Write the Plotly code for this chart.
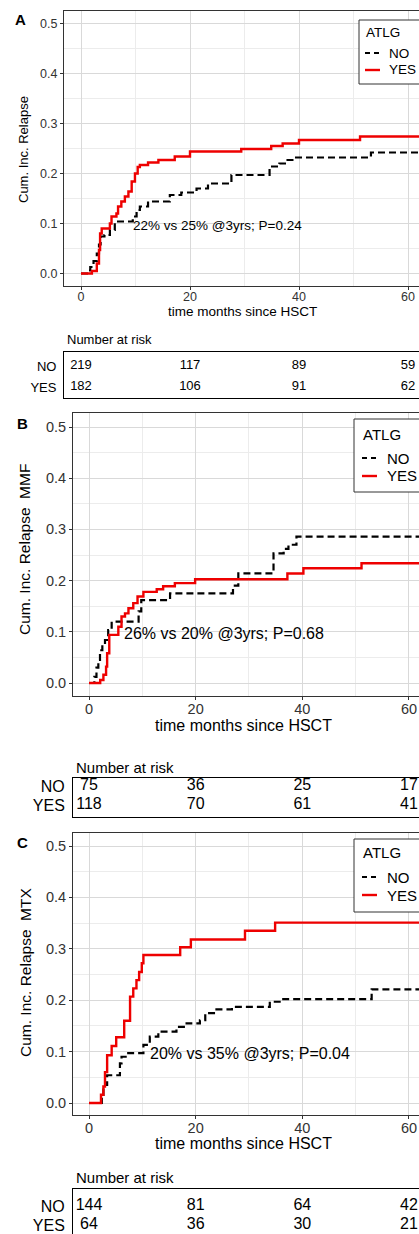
import plotly.graph_objects as go

# ---------------- data ----------------
time_ticks = [0, 20, 40, 60]
groups = ["NO", "YES"]
legend_title = "ATLG"

# Panel A: all patients
tA_no = [0, 1.3, 1.7, 2.3, 2.9, 3.3, 3.6, 4.3, 5.3, 6.2, 9.5, 10.2, 10.8, 12.3, 16.3, 18.4, 21.2, 23.3, 27.6, 34.6, 36.4, 37.9, 39.2, 53.2, 64]
cA_no = [0, .006, .013, .025, .04, .058, .074, .077, .087, .104, .114, .127, .134, .144, .157, .162, .170, .180, .197, .214, .220, .227, .232, .242, .242]
tA_yes = [0, 2.0, 2.9, 3.3, 3.5, 3.8, 5.3, 5.6, 6.5, 6.8, 7.4, 8.05, 8.7, 9.3, 9.9, 10.4, 10.8, 12.3, 14.2, 17.2, 20.0, 29.4, 34.9, 37.0, 40.0, 51.2, 64]
cA_yes = [0, .005, .02, .047, .08, .09, .1, .114, .12, .134, .144, .154, .164, .184, .2, .213, .217, .222, .227, .234, .244, .249, .255, .26, .267, .274, .274]
riskA_no = [219, 117, 89, 59]
riskA_yes = [182, 106, 91, 62]
noteA = "22% vs 25% @3yrs; P=0.24"

# Panel B: MMF
tB_no = [0, 1.0, 1.4, 1.75, 2.06, 2.5, 3.0, 3.6, 4.25, 9.3, 9.8, 15.2, 27.0, 28.0, 34.6, 36.5, 37.4, 38.9, 64]
cB_no = [0, .012, .03, .045, .064, .075, .084, .1035, .12, .14, .162, .175, .19, .214, .253, .262, .27, .286, .286]
tB_yes = [0, 2.1, 2.7, 3.2, 3.4, 3.8, 5.5, 6.1, 6.75, 7.4, 8.3, 9.1, 10.2, 12.7, 13.9, 16.1, 19.9, 37.2, 40.2, 51.1, 64]
cB_yes = [0, .006, .016, .032, .058, .094, .11, .13, .136, .146, .156, .169, .178, .183, .189, .195, .2025, .214, .224, .234, .234]
riskB_no = [75, 36, 25, 17]
riskB_yes = [118, 70, 61, 41]
noteB = "26% vs 20% @3yrs; P=0.68"

# Panel C: MTX
tC_no = [0, 2.4, 2.7, 3.4, 5.8, 6.1, 7.1, 10.2, 11.4, 13.0, 16.4, 18.3, 20.8, 21.8, 23.9, 26.8, 33.9, 36.1, 53.0, 64]
cC_no = [0, .016, .035, .054, .077, .09, .097, .113, .129, .139, .148, .155, .161, .175, .182, .187, .197, .202, .221, .221]
tC_yes = [0, 2.25, 2.7, 3.0, 3.4, 4.25, 5.1, 6.6, 7.7, 8.3, 8.9, 9.4, 9.9, 10.2, 17.1, 19.1, 29.25, 34.9, 64]
cC_yes = [0, .016, .032, .06, .093, .111, .128, .16, .207, .223, .239, .255, .272, .288, .303, .318, .335, .351, .351]
riskC_no = [144, 81, 64, 42]
riskC_yes = [64, 36, 30, 21]
noteC = "20% vs 35% @3yrs; P=0.04"

# ---------------- layout helpers ----------------
W, H = 419, 1234
FONT = "Liberation Sans, Arial, sans-serif"
GRID = "#d9d9d9"
MINOR = "#ececec"
LINE = "#333333"
RED = "#ee0000"
NO_DASH = "7px,4px"


def fx(p):
    return p / W


def fy(p):
    return 1 - p / H


panels = [
    dict(letter="A", ytitle="Cum. Inc. Relapse", L=64, T=11, B=286, x0=81, xs=5.45, y0=273.5, ys=500,
         t_no=tA_no, c_no=cA_no, t_yes=tA_yes, c_yes=cA_yes, r_no=riskA_no, r_yes=riskA_yes,
         note=noteA, note_x=9.15, fs=13.5, tfs=12.5, nfs=13, rfs=13, lfs=13.5, tso=-4,
         xt_y=312, xt_x=242, yt_x=23, yt_y=150, let_xy=(20, 20),
         nar_y=339, tbl_T=352, tbl_B=398, no_y=366, yes_y=387,
         leg=dict(L=359, T=20, B=84, title_x=364, title_y=33, sym_x=365, no_y=53, yes_y=70, txt_x=387)),
    dict(letter="B", ytitle="Cum. Inc. Relapse  MMF", L=73, T=413, B=696, x0=89, xs=5.333, y0=683, ys=512,
         t_no=tB_no, c_no=cB_no, t_yes=tB_yes, c_yes=cB_yes, r_no=riskB_no, r_yes=riskB_yes,
         note=noteB, note_x=6.2, fs=16, tfs=14.5, nfs=15, rfs=16, lfs=15, tso=-3,
         xt_y=725, xt_x=243, yt_x=25, yt_y=550, let_xy=(22, 423),
         nar_y=767, tbl_T=778, tbl_B=817, no_y=786, yes_y=805,
         leg=dict(L=354, T=419, B=492, title_x=361, title_y=434, sym_x=362, no_y=458, yes_y=476, txt_x=385)),
    dict(letter="C", ytitle="Cum. Inc. Relapse  MTX", L=73, T=833, B=1115, x0=89, xs=5.333, y0=1103, ys=514,
         t_no=tC_no, c_no=cC_no, t_yes=tC_yes, c_yes=cC_yes, r_no=riskC_no, r_yes=riskC_yes,
         note=noteC, note_x=11.1, fs=16, tfs=14.5, nfs=15, rfs=16, lfs=15, tso=-3,
         xt_y=1143, xt_x=243, yt_x=25, yt_y=973, let_xy=(22, 842),
         nar_y=1177, tbl_T=1189, tbl_B=1234, no_y=1206, yes_y=1225,
         leg=dict(L=354, T=839, B=912, title_x=361, title_y=853, sym_x=362, no_y=877, yes_y=895, txt_x=385)),
]

fig = go.Figure()
annotations = []
shapes = []
layout = dict(width=W, height=H, margin=dict(l=0, r=0, t=0, b=0, autoexpand=False),
              paper_bgcolor="white", plot_bgcolor="white", font=dict(family=FONT, color="black"),
              showlegend=False)

for i, p in enumerate(panels):
    ax_plot = 2 * i + 1
    ax_tab = 2 * i + 2
    xk = "xaxis" if ax_plot == 1 else f"xaxis{ax_plot}"
    yk = "yaxis" if ax_plot == 1 else f"yaxis{ax_plot}"
    xr = "x" if ax_plot == 1 else f"x{ax_plot}"
    yr = "y" if ax_plot == 1 else f"y{ax_plot}"
    xtk, ytk = f"xaxis{ax_tab}", f"yaxis{ax_tab}"
    xtr, ytr = f"x{ax_tab}", f"y{ax_tab}"

    xrange = [-(p["x0"] - p["L"]) / p["xs"], (W - p["x0"]) / p["xs"]]
    yrange = [-(p["B"] - p["y0"]) / p["ys"], (p["y0"] - p["T"]) / p["ys"]]

    layout[xk] = dict(domain=[fx(p["L"]), 1], range=xrange, anchor=yr, tickmode="linear", tick0=0, dtick=20,
                      showgrid=True, gridcolor=GRID, gridwidth=1,
                      minor=dict(dtick=10, tick0=0, showgrid=True, gridcolor=MINOR, gridwidth=1),
                      ticks="outside", ticklen=3, tickcolor=LINE, showline=True, linecolor=LINE, linewidth=1,
                      mirror=True, zeroline=False, ticklabelstandoff=p["tso"],
                      tickfont=dict(size=p["tfs"], color="#333333"))
    layout[yk] = dict(domain=[fy(p["B"]), fy(p["T"])], range=yrange, anchor=xr, tickmode="linear", tick0=0,
                      dtick=0.1, tickformat=".1f", showgrid=True, gridcolor=GRID, gridwidth=1,
                      minor=dict(dtick=0.05, tick0=0, showgrid=True, gridcolor=MINOR, gridwidth=1),
                      ticks="outside", ticklen=3, tickcolor=LINE, showline=True, linecolor=LINE, linewidth=1,
                      mirror=False, zeroline=False, tickfont=dict(size=p["tfs"], color="#333333"))

    # risk table axes
    rpx = p["yes_y"] - p["no_y"]
    trange = [-(p["tbl_B"] - p["yes_y"]) / rpx, 1 + (p["no_y"] - p["tbl_T"]) / rpx]
    layout[xtk] = dict(domain=[fx(p["L"]), 1], range=xrange, anchor=ytr, showgrid=False, zeroline=False,
                       showticklabels=False, ticks="", showline=True, linecolor="black", linewidth=1,
                       mirror=(i < 2), side="bottom" if i < 2 else "top")
    layout[ytk] = dict(domain=[max(0, fy(p["tbl_B"])), fy(p["tbl_T"])], range=trange, anchor=xtr,
                       tickmode="array", tickvals=[1, 0], ticktext=groups, ticks="", showgrid=False,
                       zeroline=False, showline=True, linecolor="black", linewidth=1,
                       ticklabeloverflow="allow", ticklabelstandoff=4,
                       tickfont=dict(size=p["rfs"], color="black"))

    # curves
    fig.add_trace(go.Scatter(x=p["t_no"], y=p["c_no"], mode="lines", line_shape="hv", name=groups[0],
                             line=dict(color="black", width=2.2, dash=NO_DASH), xaxis=xr, yaxis=yr))
    fig.add_trace(go.Scatter(x=p["t_yes"], y=p["c_yes"], mode="lines", line_shape="hv", name=groups[1],
                             line=dict(color=RED, width=2.4), xaxis=xr, yaxis=yr))
    # risk numbers
    fig.add_trace(go.Scatter(x=time_ticks, y=[1] * 4, mode="text", text=[str(v) for v in p["r_no"]],
                             textfont=dict(size=p["rfs"], color="black"), name=groups[0] + " at risk",
                             xaxis=xtr, yaxis=ytr, cliponaxis=False, hoverinfo="skip"))
    fig.add_trace(go.Scatter(x=time_ticks, y=[0] * 4, mode="text", text=[str(v) for v in p["r_yes"]],
                             textfont=dict(size=p["rfs"], color="black"), name=groups[1] + " at risk",
                             xaxis=xtr, yaxis=ytr, cliponaxis=False, hoverinfo="skip"))

    # legend box (drawn by hand so it can be cut by the right edge like the reference)
    lg = p["leg"]
    shapes.append(dict(type="rect", xref="paper", yref="paper", x0=fx(lg["L"]), x1=fx(W + 40),
                       y0=fy(lg["B"]), y1=fy(lg["T"]), line=dict(color=LINE, width=1), fillcolor="white",
                       layer="above"))
    shapes.append(dict(type="line", xref="paper", yref="paper", x0=fx(lg["sym_x"]), x1=fx(lg["sym_x"] + 15),
                       y0=fy(lg["no_y"]), y1=fy(lg["no_y"]), line=dict(color="black", width=2.2, dash="5px,4px"),
                       layer="above"))
    shapes.append(dict(type="line", xref="paper", yref="paper", x0=fx(lg["sym_x"]), x1=fx(lg["sym_x"] + 15),
                       y0=fy(lg["yes_y"]), y1=fy(lg["yes_y"]), line=dict(color=RED, width=2.4), layer="above"))
    annotations.append(dict(text=legend_title, x=fx(lg["title_x"]), y=fy(lg["title_y"]), xref="paper",
                            yref="paper", xanchor="left", yanchor="middle", showarrow=False,
                            font=dict(size=p["lfs"])))
    for g, yy in zip(groups, [lg["no_y"], lg["yes_y"]]):
        annotations.append(dict(text=g, x=fx(lg["txt_x"]), y=fy(yy), xref="paper", yref="paper",
                                xanchor="left", yanchor="middle", showarrow=False, font=dict(size=p["lfs"])))

    annotations.append(dict(text=p["note"], x=p["note_x"], y=0.097, xref=xr, yref=yr, xanchor="left",
                            yanchor="middle", showarrow=False, font=dict(size=p["fs"])))
    annotations.append(dict(text="time months since HSCT", x=fx(p["xt_x"]), y=fy(p["xt_y"]), xref="paper",
                            yref="paper", xanchor="center", yanchor="middle", showarrow=False,
                            font=dict(size=p["fs"])))
    annotations.append(dict(text=p["ytitle"], x=fx(p["yt_x"]), y=fy(p["yt_y"]), xref="paper", yref="paper",
                            xanchor="center", yanchor="middle", textangle=-90, showarrow=False,
                            font=dict(size=p["fs"] - 0.5)))
    annotations.append(dict(text="<b>" + p["letter"] + "</b>", x=fx(p["let_xy"][0]), y=fy(p["let_xy"][1]),
                            xref="paper", yref="paper", xanchor="center", yanchor="middle", showarrow=False,
                            font=dict(size=15)))
    annotations.append(dict(text="Number at risk", x=fx(p["L"] + 1), y=fy(p["nar_y"]), xref="paper",
                            yref="paper", xanchor="left", yanchor="middle", showarrow=False,
                            font=dict(size=p["nfs"])))

layout["annotations"] = annotations
layout["shapes"] = shapes
fig.update_layout(**layout)
fig.write_html("out.html")
